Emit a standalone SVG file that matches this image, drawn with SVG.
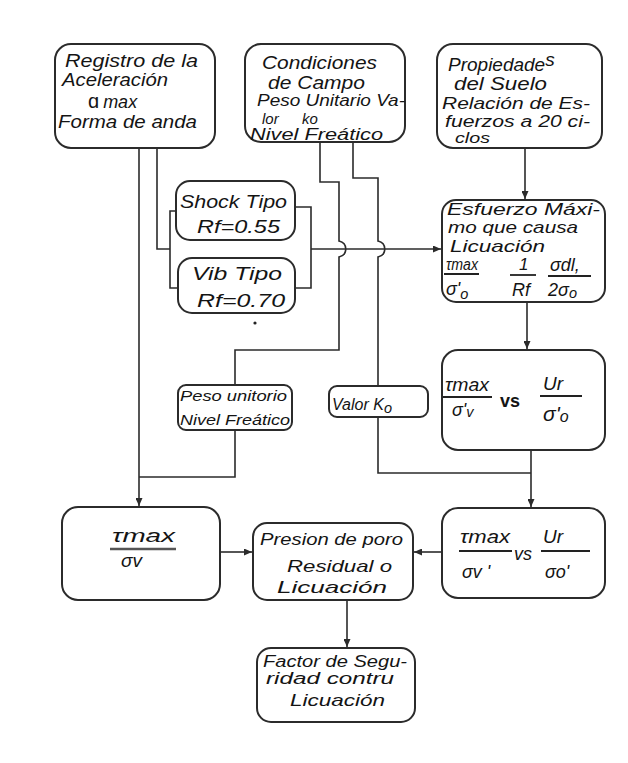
<svg xmlns="http://www.w3.org/2000/svg" width="628" height="763" viewBox="0 0 628 763">
  <style>
    .box { fill: #ffffff; stroke: #2b2b2b; stroke-width: 2; }
    .wire { fill: none; stroke: #2b2b2b; stroke-width: 1.6; }
    .bar { stroke: #222; stroke-width: 1.8; }
    text { font-family: "Liberation Sans", "DejaVu Sans", sans-serif; font-style: italic; fill: #141414; }
    .t19 { font-size: 19px; }
    .t18 { font-size: 18px; }
    .t17 { font-size: 17px; }
    .t16 { font-size: 16px; }
    .t15 { font-size: 15px; }
    .t14 { font-size: 14.5px; }
  </style>
  <defs>
    <marker id="arrow" markerWidth="9" markerHeight="7" refX="8" refY="3.5" orient="auto" markerUnits="userSpaceOnUse">
      <path d="M0,0 L8,3.5 L0,7 z" fill="#2b2b2b"/>
    </marker>
  </defs>
  <rect width="628" height="763" fill="#ffffff"/>

  <!-- connectors -->
  <g id="connectors">
    <!-- acceleration record down to tau/sigma box -->
    <path class="wire" d="M139 148 V506" marker-end="url(#arrow)"/>
    <!-- acceleration record into the shock/vibration bracket -->
    <path class="wire" d="M157 148 V249 H170"/>
    <path class="wire" d="M176 211 H170 V288 H178"/>
    <path class="wire" d="M295 207 H311 V288 H295"/>
    <path class="wire" d="M311 249 H441" marker-end="url(#arrow)"/>
    <!-- field conditions: unit weight / water table branch -->
    <path class="wire" d="M320 142 V182 H339 V241 C348 243 348 255 339 257 V350 H235 V385"/>
    <path class="wire" d="M235 430 V477 H139"/>
    <!-- field conditions: Ko branch -->
    <path class="wire" d="M353 142 V178 H378 V241 C387 243 387 255 378 257 V386"/>
    <path class="wire" d="M378 417 V473 H531"/>
    <!-- right column -->
    <path class="wire" d="M525 148 V199" marker-end="url(#arrow)"/>
    <path class="wire" d="M527 302 V349" marker-end="url(#arrow)"/>
    <path class="wire" d="M531 450 V507" marker-end="url(#arrow)"/>
    <!-- into pore pressure box -->
    <path class="wire" d="M442 552 H414" marker-end="url(#arrow)"/>
    <path class="wire" d="M220 552 H252" marker-end="url(#arrow)"/>
    <path class="wire" d="M347 600 V647" marker-end="url(#arrow)"/>
  </g>

  <g id="registro">
    <rect class="box" x="55" y="44" width="160" height="104" rx="16"/>
    <text class="t19" x="65" y="67" textLength="133" lengthAdjust="spacingAndGlyphs">Registro de la</text>
    <text class="t19" x="62" y="86" textLength="106" lengthAdjust="spacingAndGlyphs">Aceleración</text>
    <text x="88" y="108"><tspan style="font-size:20px;font-style:normal">ɑ</tspan><tspan class="t18" dx="4">max</tspan></text>
    <text class="t19" x="58" y="128" textLength="139" lengthAdjust="spacingAndGlyphs">Forma de anda</text>
  </g>

  <g id="condiciones">
    <rect class="box" x="245" y="44" width="160" height="98" rx="16"/>
    <text class="t19" x="262" y="69" textLength="115" lengthAdjust="spacingAndGlyphs">Condiciones</text>
    <text class="t19" x="268" y="89" textLength="97" lengthAdjust="spacingAndGlyphs">de Campo</text>
    <text class="t17" x="257" y="106" textLength="148" lengthAdjust="spacingAndGlyphs">Peso Unitario Va-</text>
    <text class="t15" x="262" y="124">lor</text>
    <text class="t15" x="302" y="124">ko</text>
    <text class="t16" x="250" y="140" textLength="133" lengthAdjust="spacingAndGlyphs">Nivel Freático</text>
  </g>

  <g id="propiedades">
    <rect class="box" x="437" y="44" width="165" height="104" rx="16"/>
    <text class="t19" x="448" y="71">Propiedade<tspan dy="-5">s</tspan></text>
    <text class="t19" x="454" y="90" textLength="93" lengthAdjust="spacingAndGlyphs">del Suelo</text>
    <text class="t17" x="442" y="109" textLength="148" lengthAdjust="spacingAndGlyphs">Relación de Es-</text>
    <text class="t16" x="445" y="127" textLength="145" lengthAdjust="spacingAndGlyphs">fuerzos a 20 ci-</text>
    <text class="t14" x="455" y="143" textLength="35" lengthAdjust="spacingAndGlyphs">clos</text>
  </g>

  <g id="shock">
    <rect class="box" x="176" y="181" width="119" height="59" rx="14"/>
    <text class="t18" x="180" y="208" textLength="107" lengthAdjust="spacingAndGlyphs">Shock Tipo</text>
    <text class="t18" x="197" y="233" textLength="83" lengthAdjust="spacingAndGlyphs">Rf=0.55</text>
  </g>

  <g id="vib">
    <rect class="box" x="178" y="258" width="117" height="55" rx="14"/>
    <text class="t18" x="192" y="280" textLength="90" lengthAdjust="spacingAndGlyphs">Vib  Tipo</text>
    <text class="t18" x="197" y="307" textLength="88" lengthAdjust="spacingAndGlyphs">Rf=0.70</text>
  </g>
  <circle cx="255" cy="323" r="1.6" fill="#222"/>

  <g id="esfuerzo">
    <rect class="box" x="442" y="200" width="163" height="102" rx="14"/>
    <text class="t17" x="447" y="215" textLength="153" lengthAdjust="spacingAndGlyphs">Esfuerzo Máxi-</text>
    <text class="t17" x="448" y="233" textLength="130" lengthAdjust="spacingAndGlyphs">mo que causa</text>
    <text class="t17" x="450" y="252" textLength="95" lengthAdjust="spacingAndGlyphs">Licuación</text>
    <text class="t16" x="446" y="270" textLength="32" lengthAdjust="spacingAndGlyphs">τmax</text>
    <line class="bar" x1="444" y1="274" x2="479" y2="274"/>
    <text class="t18" x="446" y="295">σ'<tspan class="t14" dy="4">o</tspan></text>
    <text class="t17" x="519" y="270">1</text>
    <line class="bar" x1="510" y1="275" x2="536" y2="275"/>
    <text class="t18" x="512" y="296">Rf</text>
    <text class="t18" x="550" y="271">σdl,</text>
    <line class="bar" x1="548" y1="276" x2="591" y2="276"/>
    <text class="t18" x="548" y="296">2σ<tspan class="t14" dy="2">o</tspan></text>
  </g>

  <g id="relacion">
    <rect class="box" x="442" y="350" width="163" height="100" rx="16"/>
    <text class="t18" x="445" y="391" textLength="44" lengthAdjust="spacingAndGlyphs">τmax</text>
    <line class="bar" x1="443" y1="397" x2="492" y2="397"/>
    <text class="t18" x="452" y="416">σ'<tspan class="t14" dy="1">v</tspan></text>
    <text class="t18" x="500" y="407" style="font-style:normal;font-weight:bold">vs</text>
    <text class="t19" x="543" y="390">Ur</text>
    <line class="bar" x1="540" y1="396" x2="582" y2="396"/>
    <text x="543" y="421" style="font-size:21px">σ'<tspan class="t16" dy="1">o</tspan></text>
  </g>

  <g id="peso">
    <rect class="box" x="178" y="385" width="114" height="45" rx="8"/>
    <text class="t14" x="180" y="401" textLength="107" lengthAdjust="spacingAndGlyphs">Peso unitorio</text>
    <text class="t14" x="180" y="425" textLength="110" lengthAdjust="spacingAndGlyphs">Nivel Freático</text>
  </g>

  <g id="valor">
    <rect class="box" x="329" y="386" width="99" height="31" rx="8"/>
    <text class="t16" x="332" y="410">Valor  K<tspan class="t14" dy="3">o</tspan></text>
  </g>

  <g id="tau-sigma">
    <rect class="box" x="62" y="507" width="158" height="93" rx="16"/>
    <text class="t19" x="112" y="542" textLength="63" lengthAdjust="spacingAndGlyphs">τmax</text>
    <line class="bar" x1="110" y1="549" x2="176" y2="549" style="stroke:#555;stroke-width:2.5"/>
    <text class="t19" x="121" y="567">σv</text>
  </g>

  <g id="presion">
    <rect class="box" x="253" y="523" width="160" height="77" rx="14"/>
    <text class="t17" x="260" y="545" textLength="143" lengthAdjust="spacingAndGlyphs">Presion de poro</text>
    <text class="t17" x="287" y="572" textLength="105" lengthAdjust="spacingAndGlyphs">Residual o</text>
    <text class="t17" x="277" y="593" textLength="110" lengthAdjust="spacingAndGlyphs">Licuación</text>
  </g>

  <g id="relacion-ef">
    <rect class="box" x="442" y="508" width="163" height="90" rx="16"/>
    <text class="t18" x="460" y="543" textLength="50" lengthAdjust="spacingAndGlyphs">τmax</text>
    <line class="bar" x1="459" y1="551" x2="512" y2="551"/>
    <text class="t18" x="462" y="578">σv '</text>
    <text class="t18" x="514" y="560">vs</text>
    <text class="t19" x="543" y="543">Ur</text>
    <line class="bar" x1="541" y1="551" x2="590" y2="551"/>
    <text class="t18" x="545" y="578">σo'</text>
  </g>

  <g id="factor">
    <rect class="box" x="257" y="648" width="158" height="74" rx="14"/>
    <text class="t16" x="263" y="667" textLength="144" lengthAdjust="spacingAndGlyphs">Factor de Segu-</text>
    <text class="t16" x="266" y="684" textLength="128" lengthAdjust="spacingAndGlyphs">ridad  contru</text>
    <text class="t17" x="290" y="706" textLength="95" lengthAdjust="spacingAndGlyphs">Licuación</text>
  </g>
</svg>
